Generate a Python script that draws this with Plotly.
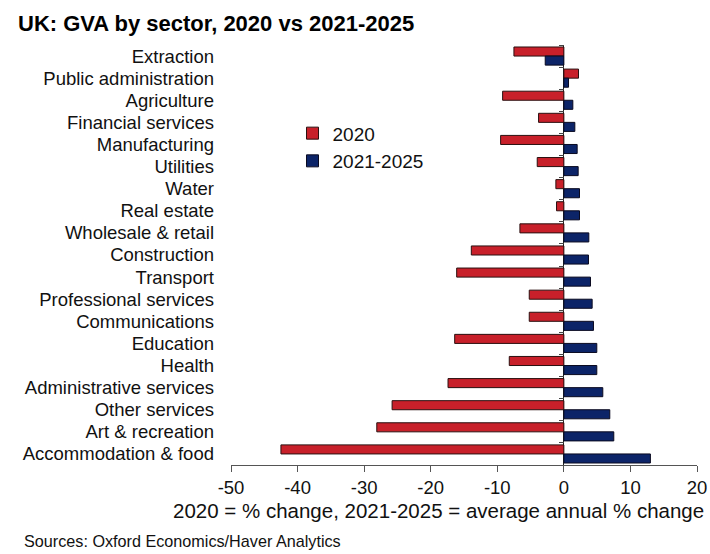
import plotly.graph_objects as go

# Sectors listed top to bottom
sectors = [
    "Extraction", "Public administration", "Agriculture", "Financial services",
    "Manufacturing", "Utilities", "Water", "Real estate", "Wholesale & retail",
    "Construction", "Transport", "Professional services", "Communications",
    "Education", "Health", "Administrative services", "Other services",
    "Art & recreation", "Accommodation & food",
]

change_2020 = [-7.5, 2.2, -9.2, -3.8, -9.5, -4.0, -1.2, -1.1, -6.6,
               -13.9, -16.1, -5.2, -5.2, -16.4, -8.2, -17.4, -25.8, -28.1, -42.5]
avg_2021_2025 = [-2.8, 0.7, 1.35, 1.65, 2.0, 2.15, 2.35, 2.35, 3.75,
                 3.7, 4.0, 4.25, 4.45, 4.95, 4.95, 5.85, 6.9, 7.5, 13.0]

x_ticks = [-50, -40, -30, -20, -10, 0, 10, 20]
x_range = [-50, 20]

RED = "#C8202A"
NAVY = "#0C2468"
FONT = "Liberation Sans, Arial, sans-serif"

L, R, T, B = 231, 13, 45, 89
W, H = 710, 554
plot_w = W - L - R
plot_h = H - T - B

fig = go.Figure()
fig.add_trace(go.Bar(
    y=sectors, x=change_2020, orientation="h", name="2020",
    marker=dict(color=RED, line=dict(color="#2a1010", width=1)),
))
fig.add_trace(go.Bar(
    y=sectors, x=avg_2021_2025, orientation="h", name="2021-2025",
    marker=dict(color=NAVY, line=dict(color="#0a0a20", width=1)),
))

# Category axis drawn through zero, with short ticks between sectors
zero_pos = (0 - x_range[0]) / (x_range[1] - x_range[0])

fig.update_layout(
    width=W, height=H,
    margin=dict(l=L, r=R, t=T, b=B, autoexpand=False),
    paper_bgcolor="white", plot_bgcolor="white",
    barmode="group", bargap=0.18, bargroupgap=0,
    font=dict(family=FONT, color="#111111"),
    showlegend=True,
    legend=dict(
        x=0.132, y=0.835, xanchor="left", yanchor="top",
        bgcolor="rgba(0,0,0,0)", font=dict(size=19),
        traceorder="normal", itemwidth=30, tracegroupgap=10,
    ),
    title=dict(
        text="<b>UK: GVA by sector, 2020 vs 2021-2025</b>",
        x=18 / W, xanchor="left", y=0.958, yanchor="middle",
        font=dict(size=22, family=FONT, color="#000000"),
    ),
    xaxis=dict(
        range=x_range, tickvals=x_ticks, ticktext=[str(v) for v in x_ticks],
        showgrid=False, zeroline=True, zerolinecolor="#222222", zerolinewidth=1,
        showline=True, linecolor="#555555", linewidth=1,
        ticks="outside", ticklen=6, tickcolor="#555555",
        tickfont=dict(size=18.5), fixedrange=True, automargin=False,
    ),
    yaxis=dict(
        autorange="reversed", showgrid=False, showline=False, automargin=False,
        ticks="", tickfont=dict(size=18.5), ticklabelstandoff=16,
    ),
    yaxis2=dict(
        matches="y", overlaying="y", anchor="free", position=zero_pos,
        side="left", showgrid=False, showline=False, showticklabels=False,
        ticks="outside", tickson="boundaries", ticklen=5, tickcolor="#444444",
        automargin=False,
    ),
)

# invisible trace so the zero-line category axis has its categories
fig.add_trace(go.Bar(
    y=sectors, x=[0] * len(sectors), orientation="h", yaxis="y2",
    showlegend=False, hoverinfo="skip", marker=dict(opacity=0),
))

# Axis caption, right-aligned near the figure edge
fig.add_annotation(
    text="2020 = % change, 2021-2025 = average annual % change",
    xref="paper", yref="paper", x=(706 - L) / plot_w, y=-(510 - (T + plot_h)) / plot_h,
    xanchor="right", yanchor="middle", showarrow=False,
    font=dict(size=20.5, family=FONT, color="#111111"),
)

fig.add_annotation(
    text="Sources: Oxford Economics/Haver Analytics",
    xref="paper", yref="paper", x=(22 - L) / plot_w, y=-(541 - (T + plot_h)) / plot_h,
    xanchor="left", yanchor="middle", showarrow=False,
    font=dict(size=16.2, family=FONT, color="#111111"),
)

fig.write_html("out.html")
